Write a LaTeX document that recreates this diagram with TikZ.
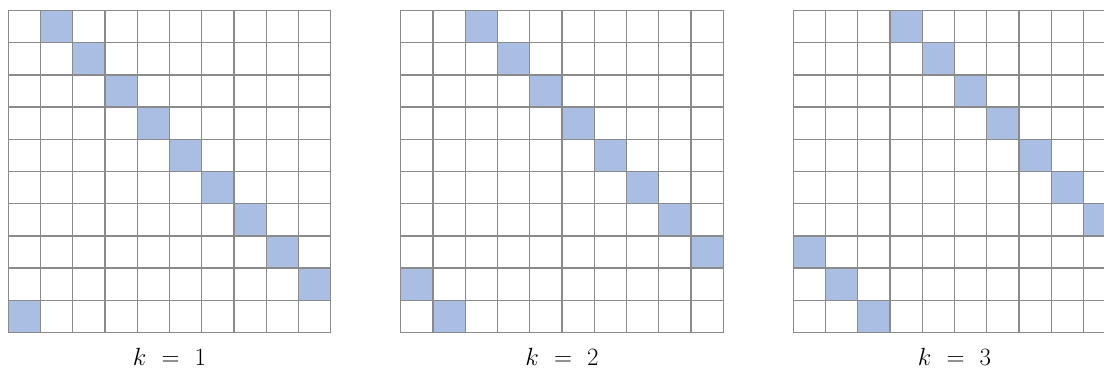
\documentclass[tikz,border=0pt]{standalone}
\definecolor{cellblue}{RGB}{169,190,226}
\definecolor{gridgray}{RGB}{138,138,138}
\begin{document}
\begin{tikzpicture}[x=1pt,y=-1pt,
  cellfill/.style={fill=cellblue},
  gridline/.style={draw=gridgray,line width=1.3pt,line cap=rect},
  lab/.style={font=\fontsize{23}{28}\selectfont,anchor=base,inner sep=0pt}]
\useasboundingbox (0,0) rectangle (1104,371);
\clip (0,0) rectangle (1104,371);
\foreach \k/\x in {1/8.3, 2/400.8, 3/793.3} {
  \foreach \i in {0,...,9} {
    \pgfmathtruncatemacro\j{mod(\i+\k,10)}
    \fill[cellfill] (\x+\j*32.24, 10.5+\i*32.2) rectangle ++(32.24,32.2);
  }
  \foreach \n in {0,...,10} {
    \draw[gridline] (\x+\n*32.24,10.5) -- ++(0,322);
    \draw[gridline] (\x,10.5+\n*32.2) -- ++(322.4,0);
  }
  \node[lab] (lab\k) at (\x+161.2,366) {$k\mskip 6mu=\mskip 6mu\k$};
}
\end{tikzpicture}
\end{document}
